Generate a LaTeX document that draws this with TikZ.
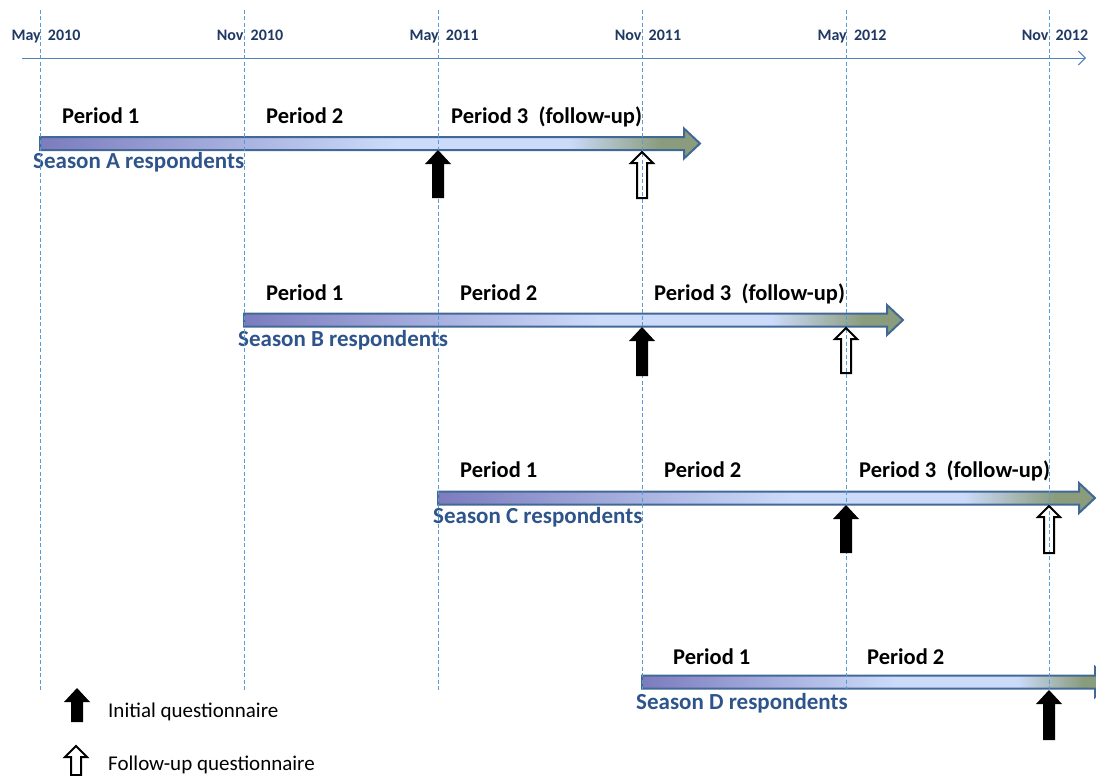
\documentclass[tikz,border=0pt]{standalone}
\usepackage{fontspec}
\setmainfont{Carlito}
\usepackage{tikz}
\usetikzlibrary{arrows.meta}
\definecolor{gridblue}{RGB}{91,155,213}
\definecolor{axisblue}{RGB}{79,129,189}
\definecolor{barL}{RGB}{124,124,190}
\definecolor{barM}{RGB}{204,219,250}
\definecolor{barR}{RGB}{138,156,124}
\definecolor{barB}{RGB}{65,105,150}
\definecolor{dateC}{RGB}{31,56,100}
\definecolor{seasonC}{RGB}{46,84,140}
\pgfdeclarehorizontalshading{barshade}{100bp}{color(0bp)=(barL); color(25bp)=(barL); color(52bp)=(barM); color(65bp)=(barM); color(72bp)=(barR); color(100bp)=(barR)}
\tikzset{Grid/.style={draw=gridblue, line width=0.8pt, dash pattern=on 4pt off 2.5pt}}
\tikzset{Date/.style={font=\fontsize{16}{18}\selectfont\bfseries, text=dateC, inner sep=0pt, anchor=base}}
\tikzset{Period/.style={font=\fontsize{22.5}{26}\selectfont\bfseries, anchor=base west, inner sep=0pt}}
\tikzset{Season/.style={font=\fontsize{23}{26}\selectfont\bfseries, text=seasonC, anchor=base west, inner sep=0pt}}
\tikzset{Legend/.style={font=\fontsize{21}{24}\selectfont, anchor=base west, inner sep=0pt}}
\tikzset{Bar/.style={shade, shading=barshade, draw=barB, line width=2pt, line join=miter}}
\tikzset{pics/initq/.style={code={\fill[black] (0,0) -- (13,14) -- (6,14) -- (6,#1) -- (-6,#1) -- (-6,14) -- (-13,14) -- cycle;}}}
\tikzset{pics/followq/.style={code={\draw[black, line width=2pt, line join=miter] (0,1) -- (11,12) -- (5,12) -- (5,#1) -- (-5,#1) -- (-5,12) -- (-11,12) -- cycle;}}}
% start x, tip x, centre y
\newcommand{\seasonbar}[3]{\path[Bar] (#1,#3-6.5) -- (#2-16,#3-6.5) -- (#2-16,#3-15) -- (#2,#3) -- (#2-16,#3+15) -- (#2-16,#3+6.5) -- (#1,#3+6.5) -- cycle;}

\begin{document}
\begin{tikzpicture}[x=1pt, y=-1pt]
\useasboundingbox (0,0) rectangle (1096,776);
\clip (0,0) rectangle (1096,776);

% time axis
\coordinate (axisstart) at (22,58);
\coordinate (axisend) at (1086,58);
\draw[axisblue, line width=0.9pt, -{Straight Barb[length=7pt, width=14pt]}] (axisstart) -- (axisend);

% bars
\seasonbar{40}{700}{143.5}
\seasonbar{244}{903}{320}
\seasonbar{438}{1095}{498}
\seasonbar{642}{1111}{682}

% season A
\node[Period] (a1) at (62,123) {Period 1};
\node[Period] (a2) at (266,123) {Period 2};
\node[Period] (a3) at (451,123) {Period 3\ \ (follow-up)};
\node[Season] (sa) at (33,168) {Season A respondents};

% season B
\node[Period] (b1) at (266,300) {Period 1};
\node[Period] (b2) at (460,300) {Period 2};
\node[Period] (b3) at (654,300) {Period 3\ \ (follow-up)};
\node[Season] (sb) at (238,346) {Season B respondents};

% season C
\node[Period] (c1) at (460,477) {Period 1};
\node[Period] (c2) at (664,477) {Period 2};
\node[Period] (c3) at (859,477) {Period 3\ \ (follow-up)};
\node[Season] (sc) at (433,523) {Season C respondents};

% season D
\node[Period] (d1) at (673,664) {Period 1};
\node[Period] (d2) at (867,664) {Period 2};
\node[Season] (sd) at (636,709) {Season D respondents};

% months
\foreach \x/\m/\yr [count=\i] in {40/May/2010, 244/Nov/2010, 438/May/2011, 642/Nov/2011, 846/May/2012, 1049/Nov/2012}{
  \draw[Grid] (\x,10) -- (\x,690);
  \node[Date] (date\i) at (\x+6,41) {\m\ \ \yr};
}

% questionnaires
\pic (qa) at (438,150) {initq=48};
\pic (qb) at (642,327) {initq=49};
\pic (qc) at (846,505) {initq=48};
\pic (qd) at (1049,690) {initq=50};
\pic (fa) at (642,151) {followq=47};
\pic (fb) at (846,327) {followq=46};
\pic (fc) at (1049,505) {followq=48};

% legend
\pic (legi) at (77,688) {initq=34};
\node[Legend] (legitext) at (108,717) {Initial questionnaire};
\pic (legf) at (76,745) {followq=30};
\node[Legend] (legftext) at (108,770) {Follow-up questionnaire};
\end{tikzpicture}
\end{document}
